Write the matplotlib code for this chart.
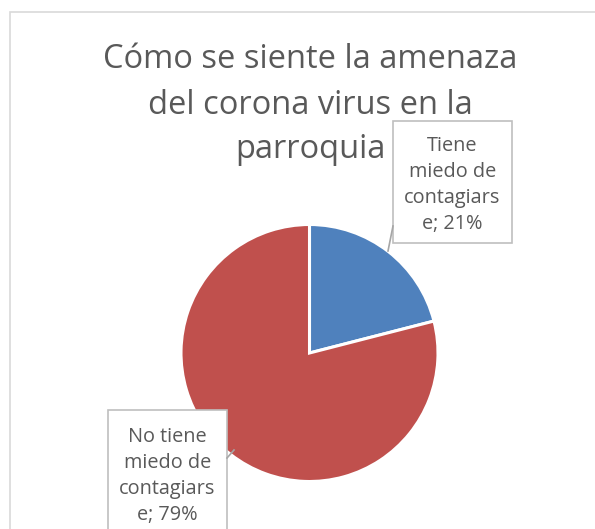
import matplotlib
matplotlib.use("Agg")

import matplotlib.pyplot as plt
from matplotlib.patches import Rectangle
from matplotlib.lines import Line2D

W, H = 595, 529

title_lines = ["Cómo se siente la amenaza", "del corona virus en la", "parroquia"]
labels = ["Tiene miedo de contagiarse", "No tiene miedo de contagiarse"]
values = [21, 79]
colors = ["#4F81BD", "#C0504D"]

# label text wrapped the way the box wraps it
wrapped = [
    "Tiene\nmiedo de\ncontagiars\ne; {}%",
    "No tiene\nmiedo de\ncontagiars\ne; {}%",
]

GREY = "#595959"
FONT = "Open Sans"


def px(x, y):
    # pixel coords (top-left origin) -> figure fraction
    return x / W, 1 - y / H


fig = plt.figure(figsize=(W / 100, H / 100), dpi=100)
fig.patch.set_facecolor("white")

# chart area frame
fig.patches.append(Rectangle(px(9.5, 800), 800 / W, (800 - 11.5) / H,
                             transform=fig.transFigure, fill=False,
                             edgecolor="#D9D9D9", linewidth=1.2))

# title, one text per line
for i, line in enumerate(title_lines):
    tx, ty = px(310, 60 + 45 * i)
    fig.text(tx, ty, line, ha="center", va="center", fontsize=23.5,
             color=GREY, family=FONT)

# pie
cx, cy, r = 309.5, 353, 128.5
left, bottom = px(cx - r, cy + r)
ax = fig.add_axes([left, bottom, 2 * r / W, 2 * r / H])
ax.pie(values, colors=colors, startangle=90, counterclock=False,
       wedgeprops=dict(edgecolor="white", linewidth=2.2))
ax.set_xlim(-1, 1)
ax.set_ylim(-1, 1)
ax.set_aspect("equal")
ax.axis("off")

# data label boxes
boxes = [(393, 121, 119, 122), (108, 410, 119, 125)]
offsets = [64, 66]
for (bx, by, bw, bh), off, txt, v in zip(boxes, offsets, wrapped, values):
    x0, y0 = px(bx, by + bh)
    fig.patches.append(Rectangle((x0, y0), bw / W, bh / H,
                                 transform=fig.transFigure,
                                 facecolor="white", edgecolor="#BFBFBF",
                                 linewidth=1.2))
    mx, my = px(bx + bw / 2, by + off)
    fig.text(mx, my, txt.format(v), ha="center", va="center",
             fontsize=14.3, color=GREY, family=FONT, linespacing=1.42)

# leader lines
leaders = [((393, 226), (388, 251)), ((227, 458), (234, 450))]
for (x1, y1), (x2, y2) in leaders:
    a, b = px(x1, y1)
    c, d = px(x2, y2)
    fig.lines.append(Line2D([a, c], [b, d], transform=fig.transFigure,
                            color="#A6A6A6", linewidth=1.2))

fig.savefig("out.png", dpi=100)
